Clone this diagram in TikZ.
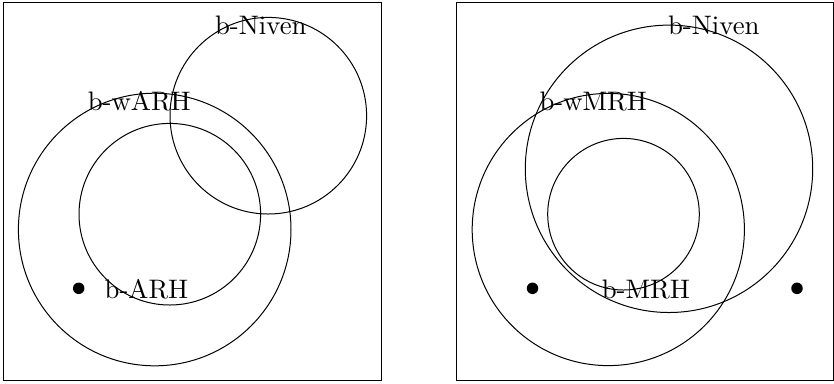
\documentclass[tikz,border=0pt]{standalone}
\begin{document}
\begin{tikzpicture}[x=0.4pt,y=-0.4pt,
  frame/.style={draw,line width=0.4pt},
  ring/.style={draw,line width=0.4pt},
  lbl/.style={anchor=base,inner sep=0pt,font=\fontsize{10.7}{12}\selectfont},
  pt/.style={circle,fill=black,inner sep=0pt,minimum size=4.6pt}]
\useasboundingbox (0,0) rectangle (834,383);
% left panel
\draw[frame] (3.5,2.7) rectangle (381.5,380.3);
\draw[ring] (268.3,115.7) circle[radius=98.3];
\draw[ring] (154.7,229.5) circle[radius=136.3];
\draw[ring] (169.8,214.2) circle[radius=90.8];
\node[pt] (d1) at (78.7,288.3) {};
\node[lbl] (n1) at (260.8,34.3) {b-Niven};
\node[lbl] (w1) at (139.3,110) {b-wARH};
\node[lbl] (a1) at (146.5,298.3) {b-ARH};
% right panel
\draw[frame] (456.7,2.7) rectangle (833.3,380.3);
\draw[ring] (669,168.8) circle[radius=143.7];
\draw[ring] (608.3,229.5) circle[radius=136.1];
\draw[ring] (623.5,214.2) circle[radius=75.8];
\node[pt] (d2) at (532.5,288.3) {};
\node[pt] (d3) at (797,288.3) {};
\node[lbl] (n2) at (713.8,34.3) {b-Niven};
\node[lbl] (w2) at (593.2,110) {b-wMRH};
\node[lbl] (m2) at (645.8,298.3) {b-MRH};
\end{tikzpicture}
\end{document}
